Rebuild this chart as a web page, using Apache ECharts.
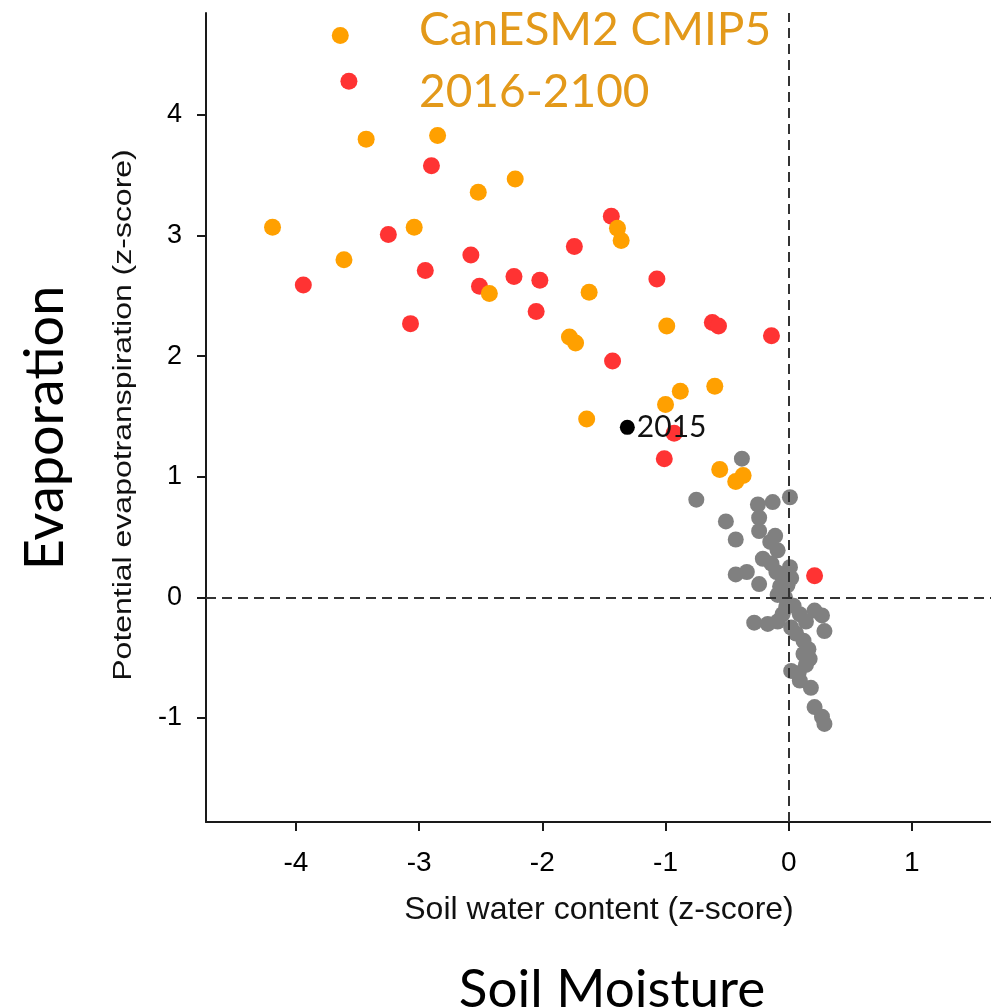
<!DOCTYPE html>
<html>
<head>
<meta charset="utf-8">
<script src="https://cdn.jsdelivr.net/npm/echarts@6/dist/echarts.min.js"></script>
<style>
  html, body { margin: 0; padding: 0; background: #ffffff; }
  #chart { width: 991px; height: 1008px; }
</style>
</head>
<body>
<div id="chart"></div>
<script>
// Soil water content vs potential evapotranspiration, z-scores

// Historical years (grey)
const historical = [
  [-0.38, 1.15], [-0.75, 0.81], [0.01, 0.83], [-0.25, 0.77], [-0.13, 0.79],
  [-0.51, 0.63], [-0.24, 0.66], [-0.24, 0.55], [-0.11, 0.51], [-0.43, 0.48],
  [-0.15, 0.46], [-0.09, 0.39], [-0.21, 0.32], [-0.14, 0.28], [0.01, 0.25],
  [-0.43, 0.19], [-0.34, 0.21], [-0.10, 0.21], [-0.05, 0.17], [0.02, 0.16],
  [-0.24, 0.11], [-0.07, 0.09], [-0.01, 0.10], [-0.09, 0.02], [-0.03, 0.00],
  [-0.02, -0.08], [0.04, -0.07], [0.09, -0.14], [-0.05, -0.14], [0.21, -0.11],
  [0.27, -0.15], [-0.28, -0.21], [-0.17, -0.22], [-0.09, -0.20], [0.14, -0.20],
  [0.02, -0.25], [0.06, -0.30], [0.29, -0.28], [0.12, -0.36], [0.16, -0.43],
  [0.12, -0.47], [0.17, -0.51], [0.14, -0.56], [0.02, -0.61], [0.08, -0.63],
  [0.09, -0.69], [0.18, -0.75], [0.21, -0.91], [0.27, -0.99], [0.29, -1.05]
];

// Projection years, red group
const projRed = [
  [-3.57, 4.28], [-2.90, 3.58], [-3.25, 3.01], [-3.94, 2.59], [-2.95, 2.71],
  [-3.07, 2.27], [-2.58, 2.84], [-2.51, 2.58], [-2.23, 2.66], [-2.02, 2.63],
  [-2.05, 2.37], [-1.44, 3.16], [-1.74, 2.91], [-1.07, 2.64], [-0.62, 2.28],
  [-0.57, 2.25], [-0.14, 2.17], [-1.43, 1.96], [-0.93, 1.36], [-1.01, 1.15],
  [0.21, 0.18]
];

// Projection years, orange group
const projOrange = [
  [-3.64, 4.66], [-3.43, 3.80], [-2.85, 3.83], [-4.19, 3.07], [-3.04, 3.07],
  [-3.61, 2.80], [-2.52, 3.36], [-2.22, 3.47], [-2.43, 2.52], [-1.39, 3.06],
  [-1.36, 2.96], [-1.62, 2.53], [-0.99, 2.25], [-1.78, 2.16], [-1.73, 2.11],
  [-0.88, 1.71], [-0.60, 1.75], [-1.00, 1.60], [-1.64, 1.48], [-0.56, 1.06],
  [-0.43, 0.96], [-0.37, 1.01]
];

// Current year
const currentYear = [[-1.31, 1.41]];
const currentYearLabel = '2015';

const xTicks = [-4, -3, -2, -1, 0, 1];
const yTicks = [-1, 0, 1, 2, 3, 4];

const xName = 'Soil water content (z-score)';
const yName = 'Potential evapotranspiration (z-score)';
const titleLines = ['CanESM2 CMIP5', '2016-2100'];
const bigY = 'Evaporation';
const bigX = 'Soil Moisture';

const chart = echarts.init(document.getElementById('chart'), null, { renderer: 'canvas' });

const axisFont = 'Liberation Sans';
const axisCommon = {
  type: 'value',
  splitLine: { show: false },
  axisLine: { show: true, onZero: false, lineStyle: { color: '#1a1a1a', width: 2 } },
  axisTick: { show: true, inside: false, length: 9, lineStyle: { color: '#1a1a1a', width: 2 } }
};

const option = {
  backgroundColor: '#ffffff',
  animation: false,
  grid: { left: 206, right: 0, top: 13, bottom: 186, containLabel: false },
  xAxis: Object.assign({}, axisCommon, {
    min: -4.73, max: 1.642,
    axisTick: Object.assign({}, axisCommon.axisTick, { customValues: xTicks }),
    axisLabel: { customValues: xTicks, margin: 27, fontSize: 28, fontFamily: axisFont, color: '#000' }
  }),
  yAxis: Object.assign({}, axisCommon, {
    min: -1.863, max: 4.846,
    axisTick: Object.assign({}, axisCommon.axisTick, { customValues: yTicks }),
    axisLabel: { customValues: yTicks, margin: 24, fontSize: 27, fontFamily: axisFont, color: '#000' }
  }),
  series: [
    {
      type: 'scatter', name: 'historical', data: historical,
      symbolSize: 16, itemStyle: { color: '#808080', opacity: 1 },
      markLine: {
        silent: true, symbol: 'none', label: { show: false },
        lineStyle: { color: '#333333', width: 2, type: [10, 6] },
        data: [{ xAxis: 0 }, { yAxis: 0 }]
      }
    },
    {
      type: 'scatter', name: 'red', data: projRed,
      symbolSize: 17, itemStyle: { color: '#FF3333', opacity: 1 }
    },
    {
      type: 'scatter', name: 'orange', data: projOrange,
      symbolSize: 17, itemStyle: { color: '#FFA000', opacity: 1 }
    },
    {
      type: 'scatter', name: 'current', data: currentYear,
      symbolSize: 15, itemStyle: { color: '#000000', opacity: 1 },
      label: {
        show: true, position: 'right', distance: 2,
        formatter: currentYearLabel,
        fontFamily: 'Lato', fontSize: 30, color: '#111'
      }
    }
  ],
  graphic: [
    {
      type: 'text', x: 599, y: 910,
      style: { text: xName, fontFamily: axisFont, fontSize: 32, fill: '#111', align: 'center', verticalAlign: 'middle' }
    },
    {
      type: 'text', x: 124, y: 415, rotation: Math.PI / 2, scaleX: 1.23,
      style: { text: yName, fontFamily: axisFont, fontSize: 26, fill: '#111', align: 'center', verticalAlign: 'middle' }
    },
    {
      type: 'text', x: 46, y: 428, rotation: Math.PI / 2,
      style: { text: bigY, fontFamily: 'Lato', fontSize: 54, fill: '#000', align: 'center', verticalAlign: 'middle' }
    },
    {
      type: 'text', x: 612, y: 990,
      style: { text: bigX, fontFamily: 'Lato', fontSize: 53, fill: '#000', align: 'center', verticalAlign: 'middle' }
    },
    {
      type: 'text', x: 419, y: 30,
      style: { text: titleLines[0], fontFamily: 'Lato', fontSize: 46, fill: '#E3991A', align: 'left', verticalAlign: 'middle' }
    },
    {
      type: 'text', x: 419, y: 92,
      style: { text: titleLines[1], fontFamily: 'Lato', fontSize: 46, fill: '#E3991A', align: 'left', verticalAlign: 'middle' }
    }
  ]
};

chart.setOption(option);
</script>
</body>
</html>
